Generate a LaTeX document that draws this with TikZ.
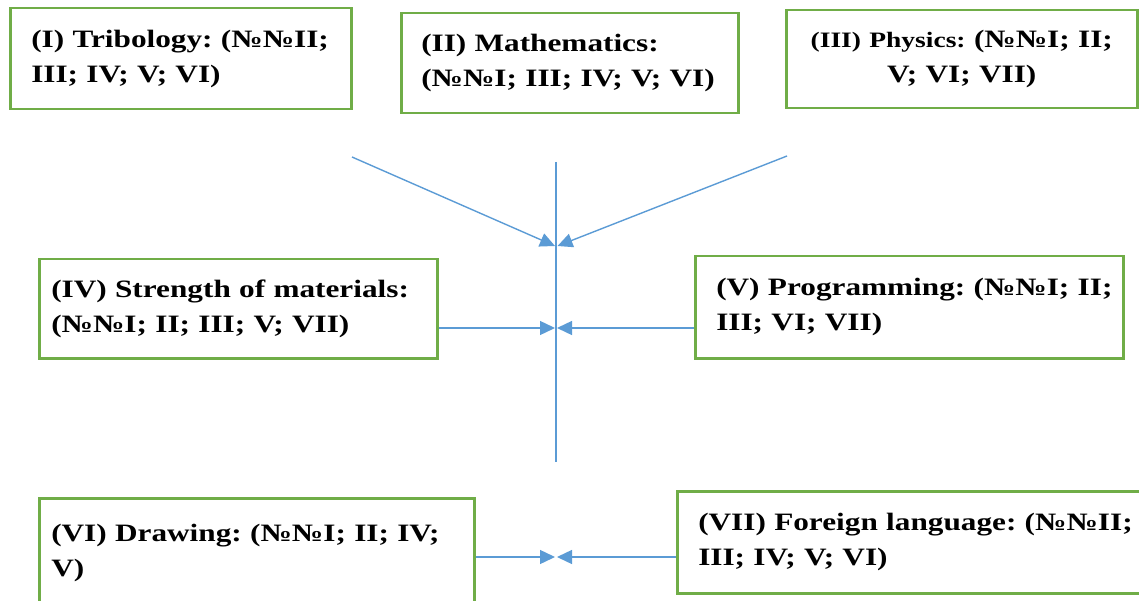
\documentclass[tikz,border=0pt]{standalone}
\usepackage{fontspec}
\setmainfont{Liberation Serif}[FakeStretch=1.25]
\usetikzlibrary{arrows.meta}
\definecolor{boxgreen}{HTML}{70AD47}
\definecolor{linkblue}{HTML}{5B9BD5}
\frenchspacing
\tikzset{
  box/.style={draw=boxgreen, line width=2.5pt, anchor=north west, inner ysep=0pt,
    font=\bfseries\fontsize{25}{35}\selectfont\frenchspacing},
  leftbox/.style={box, align=left},
  link/.style={draw=linkblue, line width=1.4pt},
  linkarrow/.style={link, -{Triangle[length=15pt,width=14pt]}},
}
\begin{document}
\begin{tikzpicture}[x=1pt,y=-1pt]
\useasboundingbox (0,0) rectangle (1139,601);
% boxes
\node[leftbox, minimum width=341pt, minimum height=101pt, text width=299pt, inner xsep=0pt] (b1) at (9,7)
  {\mbox{(I) Tribology: (№№II;}\\\mbox{III; IV; V; VI)}};
\node[leftbox, minimum width=337pt, minimum height=100pt, text width=297pt, inner xsep=0pt] (b2) at (400,12)
  {\mbox{(II) Mathematics:}\\\mbox{(№№I; III; IV; V; VI)}};
\node[box, align=center, minimum width=351pt, minimum height=98pt, text width=311pt, inner xsep=0pt] (b3) at (785,9)
  {\mbox{{\fontsize{22}{35}\selectfont(III) Physics: }(№№I; II;}\\\mbox{V; VI; VII)}};
\node[leftbox, minimum width=398pt, minimum height=99pt, text width=374pt, inner xsep=0pt] (b4) at (38,258)
  {\mbox{(IV) Strength of materials:}\\\mbox{(№№I; II; III; V; VII)}};
\node[leftbox, minimum width=428pt, minimum height=102pt, text width=386pt, inner xsep=0pt] (b5) at (694,255)
  {\mbox{(V) Programming: (№№I; II;}\\\mbox{III; VI; VII)}};
\node[leftbox, minimum width=435pt, minimum height=140pt, text width=411pt, inner xsep=0pt] (b6) at (38,497)
  {\mbox{(VI) Drawing: (№№I; II; IV;}\\\mbox{V)}\\\mbox{}};
\node[leftbox, minimum width=480pt, minimum height=102pt, text width=438pt, inner xsep=0pt] (b7) at (676,490)
  {\mbox{(VII) Foreign language: (№№II;}\\\mbox{III; IV; V; VI)}};
% central axis
\coordinate (vt) at (556,162);
\coordinate (vb) at (556,462);
\draw[link] (vt) -- (vb);
% free ends of diagonals and hub points
\coordinate (d1) at (352,157);
\coordinate (d3) at (787,156);
\coordinate (h1l) at (555,246);
\coordinate (h1r) at (557.5,246);
\coordinate (h2l) at (555,328);
\coordinate (h2r) at (557,328);
\coordinate (h3l) at (555,557);
\coordinate (h3r) at (557,557);
\draw[linkarrow] (d1) -- (h1l);
\draw[linkarrow] (d3) -- (h1r);
\draw[linkarrow] (b4.east |- h2l) -- (h2l);
\draw[linkarrow] (b5.west |- h2r) -- (h2r);
\draw[linkarrow] (b6.east |- h3l) -- (h3l);
\draw[linkarrow] (b7.west |- h3r) -- (h3r);
\end{tikzpicture}
\end{document}
